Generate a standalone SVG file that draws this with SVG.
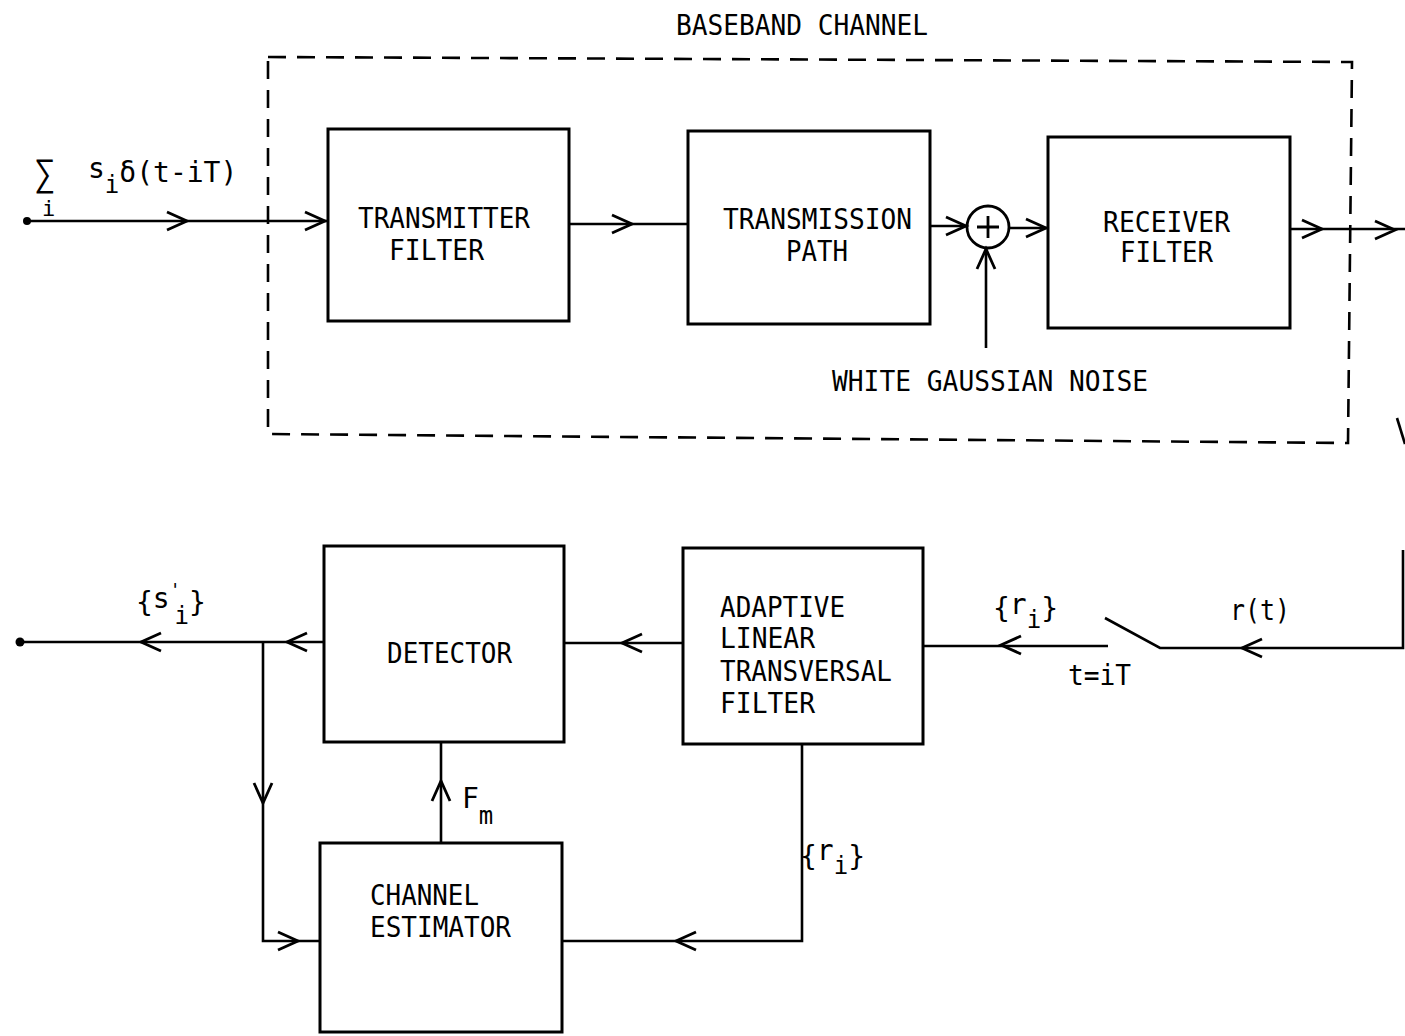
<svg xmlns="http://www.w3.org/2000/svg" width="1405" height="1036" viewBox="0 0 1405 1036">
<style>
.box{fill:none;stroke:#000;stroke-width:3}
.ln{fill:none;stroke:#000;stroke-width:2.6}
.dash{fill:none;stroke:#000;stroke-width:2.6;stroke-dasharray:18 11}
text{font-family:"DejaVu Sans Mono","Liberation Mono",monospace;font-size:28px;fill:#000}
.sub{font-size:24px}
</style>
<defs>
<path id="chev" d="M-20,-9 L0,0 L-20,9" fill="none" stroke="#000" stroke-width="2.8" stroke-linejoin="miter"/>
</defs>
<rect width="1405" height="1036" fill="#fff"/>

<g id="baseband-channel">
<polygon class="dash" points="268,57 1352,62 1348,443 268,434"/>
<text x="676" y="35" textLength="252" lengthAdjust="spacingAndGlyphs">BASEBAND CHANNEL</text>
</g>

<g id="transmitter-filter">
<rect class="box" x="328" y="129" width="241" height="192"/>
<text x="358" y="228" textLength="172" lengthAdjust="spacingAndGlyphs">TRANSMITTER</text>
<text x="389" y="260" textLength="95" lengthAdjust="spacingAndGlyphs">FILTER</text>
</g>

<g id="transmission-path">
<rect class="box" x="688" y="131" width="242" height="193"/>
<text x="723" y="229" textLength="189" lengthAdjust="spacingAndGlyphs">TRANSMISSION</text>
<text x="786" y="261" textLength="62" lengthAdjust="spacingAndGlyphs">PATH</text>
</g>

<g id="summer">
<circle cx="988" cy="227" r="21" fill="none" stroke="#000" stroke-width="2.8"/>
<path d="M988,216 V238 M977,227 H999" stroke="#000" stroke-width="2.8"/>
</g>

<g id="receiver-filter">
<rect class="box" x="1048" y="137" width="242" height="191"/>
<text x="1103" y="232" textLength="127" lengthAdjust="spacingAndGlyphs">RECEIVER</text>
<text x="1120" y="262" textLength="93" lengthAdjust="spacingAndGlyphs">FILTER</text>
</g>

<g id="noise">
<text x="832" y="391" textLength="316" lengthAdjust="spacingAndGlyphs">WHITE GAUSSIAN NOISE</text>
</g>

<g id="detector">
<rect class="box" x="324" y="546" width="240" height="196"/>
<text x="387" y="663" textLength="125" lengthAdjust="spacingAndGlyphs">DETECTOR</text>
</g>

<g id="adaptive-filter">
<rect class="box" x="683" y="548" width="240" height="196"/>
<text x="720" y="617" textLength="125" lengthAdjust="spacingAndGlyphs">ADAPTIVE</text>
<text x="720" y="648" textLength="95" lengthAdjust="spacingAndGlyphs">LINEAR</text>
<text x="720" y="681" textLength="172" lengthAdjust="spacingAndGlyphs">TRANSVERSAL</text>
<text x="720" y="713" textLength="95" lengthAdjust="spacingAndGlyphs">FILTER</text>
</g>

<g id="channel-estimator">
<rect class="box" x="320" y="843" width="242" height="189"/>
<text x="370" y="905" textLength="109" lengthAdjust="spacingAndGlyphs">CHANNEL</text>
<text x="370" y="937" textLength="141" lengthAdjust="spacingAndGlyphs">ESTIMATOR</text>
</g>

<g id="connectors">
<circle cx="27" cy="221" r="4" fill="#000"/>
<path class="ln" d="M27,221 H328"/>
<use href="#chev" transform="translate(187,221)"/>
<use href="#chev" transform="translate(325,221)"/>
<path class="ln" d="M569,224 H688"/>
<use href="#chev" transform="translate(632,224)"/>
<path class="ln" d="M930,226 H967"/>
<use href="#chev" transform="translate(966,226)"/>
<path class="ln" d="M1009,228 H1048"/>
<use href="#chev" transform="translate(1046,228)"/>
<path class="ln" d="M986,348 V249"/>
<use href="#chev" transform="translate(986,249) rotate(-90)"/>
<path class="ln" d="M1290,229 H1405"/>
<use href="#chev" transform="translate(1322,229)"/>
<use href="#chev" transform="translate(1395,230)"/>
<path class="ln" d="M1397,418 L1405,444"/>
<path class="ln" d="M1403,550 V648 H1160 L1105,618"/>
<use href="#chev" transform="translate(1242,648) rotate(180)"/>
<path class="ln" d="M1108,646 H923"/>
<use href="#chev" transform="translate(1001,645) rotate(180)"/>
<path class="ln" d="M683,643 H564"/>
<use href="#chev" transform="translate(622,643) rotate(180)"/>
<path class="ln" d="M324,642 H20"/>
<circle cx="20" cy="642" r="4.5" fill="#000"/>
<use href="#chev" transform="translate(287,642) rotate(180)"/>
<use href="#chev" transform="translate(141,642) rotate(180)"/>
<path class="ln" d="M263,642 V941 H320"/>
<use href="#chev" transform="translate(263,803) rotate(90)"/>
<use href="#chev" transform="translate(298,941)"/>
<path class="ln" d="M441,843 V742"/>
<use href="#chev" transform="translate(441,781) rotate(-90)"/>
<path class="ln" d="M802,744 V941 H562"/>
<use href="#chev" transform="translate(676,941) rotate(180)"/>
</g>

<g id="labels">
<text x="34" y="186" style="font-size:36px">∑</text>
<text x="42" y="216" style="font-size:22px">i</text>
<text x="88" y="178">s<tspan dy="15" class="sub">i</tspan><tspan dy="-11">δ(t-iT)</tspan></text>
<text x="993" y="618">{<tspan dy="-4">r</tspan><tspan dy="14" class="sub">i</tspan><tspan dy="-10">}</tspan></text>
<text x="1068" y="685" textLength="63" lengthAdjust="spacingAndGlyphs">t=iT</text>
<text x="1230" y="620" textLength="60" lengthAdjust="spacingAndGlyphs">r(t)</text>
<text x="136" y="612">{<tspan dy="-4">s</tspan><tspan dy="-12" style="font-size:18px">'</tspan><tspan dy="28" class="sub" dx="-6">i</tspan><tspan dy="-12">}</tspan></text>
<text x="462" y="808">F<tspan dy="16" class="sub">m</tspan></text>
<text x="800" y="866">{<tspan dy="-6">r</tspan><tspan dy="14" class="sub">i</tspan><tspan dy="-8">}</tspan></text>
</g>
</svg>
